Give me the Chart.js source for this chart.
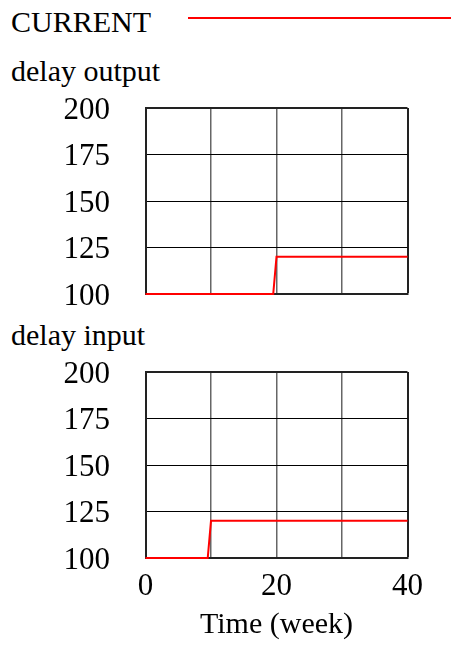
<!DOCTYPE html>
<html>
<head>
<meta charset="utf-8">
<script src="https://cdn.jsdelivr.net/npm/chart.js@4/dist/chart.umd.min.js"></script>
<style>
html,body{margin:0;padding:0;background:#fff;}
#wrap{position:relative;width:451px;height:645px;overflow:hidden;font-family:'Liberation Serif','Times New Roman',serif;color:#000;}
.t{position:absolute;font-size:30px;line-height:30px;white-space:nowrap;}
canvas{position:absolute;left:0;}
</style>
</head>
<body>
<div id="wrap">
  <div class="t" style="left:11px;top:7px;">CURRENT</div>
  <div style="position:absolute;left:188px;top:17px;width:263px;height:2px;background:#ff0000;"></div>
  <div class="t" style="left:11px;top:56px;">delay output</div>
  <div class="t" style="left:11px;top:320px;">delay input</div>
  <canvas id="c1" width="451" height="230" style="top:88px;"></canvas>
  <canvas id="c2" width="451" height="295" style="top:350px;"></canvas>
</div>
<script>
// ---- data ----
const timeOutput  = [0, 19.5, 20, 40];
const delayOutput = [100, 100, 120, 120];
const timeInput   = [0, 9.5, 10, 40];
const delayInput  = [100, 100, 120, 120];
const xTickLabels = ['0', '', '20', '', '40'];
const yMin = 100, yMax = 200, yStep = 25;
const xMin = 0, xMax = 40, xStep = 10;
const seriesName = 'CURRENT';
const xTitle = 'Time (week)';

const FONT = "'Liberation Serif', 'Times New Roman', serif";

function pts(xs, ys) { return xs.map((x, i) => ({x: x, y: ys[i]})); }

function makeChart(id, xs, ys, showX, padding) {
  const nX = Math.round((xMax - xMin) / xStep);
  const nY = Math.round((yMax - yMin) / yStep);
  return new Chart(document.getElementById(id), {
    type: 'line',
    data: {
      datasets: [{
        label: seriesName,
        data: pts(xs, ys),
        borderColor: '#ff0000',
        backgroundColor: '#ff0000',
        borderWidth: 2,
        pointRadius: 0,
        tension: 0,
        clip: false
      }]
    },
    options: {
      responsive: false,
      animation: false,
      devicePixelRatio: 1,
      layout: { padding: padding },
      plugins: { legend: { display: false }, tooltip: { enabled: false } },
      scales: {
        x: {
          type: 'linear',
          min: xMin, max: xMax,
          border: { display: true, color: '#222', width: 2 },
          grid: {
            drawTicks: false,
            color: (c) => c.index === nX ? '#222' : '#666',
            lineWidth: (c) => c.index === nX ? 2 : 1.5
          },
          ticks: {
            display: showX,
            stepSize: xStep,
            autoSkip: false,
            maxRotation: 0,
            padding: 10,
            color: '#000',
            font: { family: FONT, size: 31 },
            callback: (v, i) => xTickLabels[i]
          },
          title: {
            display: showX,
            text: xTitle,
            color: '#000',
            font: { family: FONT, size: 30 },
            padding: { top: 0, bottom: 2 }
          },
          afterFit: (s) => { s.height = showX ? 87 : 0; s.paddingLeft = 0; s.paddingRight = 0; }
        },
        y: {
          type: 'linear',
          min: yMin, max: yMax,
          border: { display: true, color: '#222', width: 2 },
          grid: {
            drawTicks: false,
            color: (c) => c.index === nY ? '#222' : '#000',
            lineWidth: (c) => c.index === nY ? 2 : 1
          },
          ticks: {
            stepSize: yStep,
            autoSkip: false,
            padding: 35.5,
            labelOffset: 2.5,
            color: '#000',
            font: { family: FONT, size: 31 }
          },
          afterFit: (s) => { s.width = 145.5; s.paddingTop = 0; s.paddingBottom = 0; }
        }
      }
    }
  });
}

makeChart('c1', timeOutput, delayOutput, false, { top: 20, right: 43.5, bottom: 24, left: 0 });
makeChart('c2', timeInput, delayInput, true, { top: 22, right: 43.5, bottom: 0, left: 0 });
</script>
</body>
</html>
